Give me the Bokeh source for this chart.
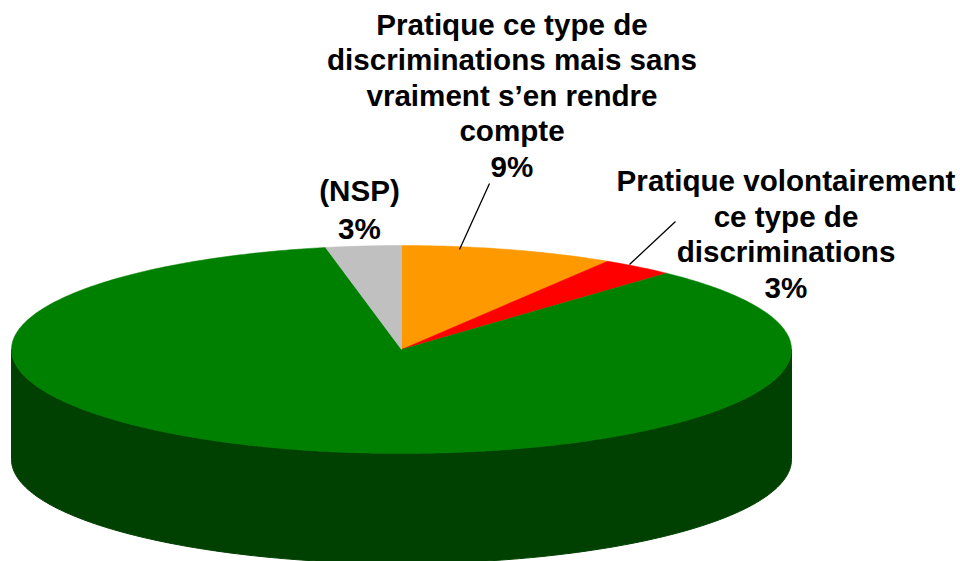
import numpy as np
from bokeh.plotting import figure
from bokeh.embed import file_html
from bokeh.resources import INLINE
from bokeh.core.properties import value

labels = ["Pratique ce type de\ndiscriminations mais sans\nvraiment s\u2019en rendre\ncompte\n9%",
          "Pratique volontairement\nce type de\ndiscriminations\n3%",
          "",
          "(NSP)\n3%"]
values = [8.86, 3.03, 84.99, 3.12]
colors = ["#FF9900", "#FF0000", "#008000", "#C0C0C0"]
side_color = "#004000"

W, H = 960, 561
CX, CY, RX, RY, DEPTH = 401, 349, 390, 104, 110  # layout in figure px

p = figure(width=W, height=H, x_range=(0, W), y_range=(H, 0), toolbar_location=None,
           output_backend="svg", min_border=0, outline_line_color=None)
p.axis.visible = False
p.grid.visible = False
p.background_fill_color = "white"

def ell(a):
    return CX + RX*np.sin(a), CY - RY*np.cos(a)

# side wall
t = np.linspace(np.pi/2, 3*np.pi/2, 200)
sx, sy = ell(t)
p.patch(np.r_[sx, sx[::-1]], np.r_[sy, sy[::-1] + DEPTH], fill_color=side_color, line_color=side_color)

# top slices, clockwise from 12 o'clock
cum = 0.0
tot = sum(values)
for v, c in zip(values, colors):
    a0 = cum/tot*2*np.pi
    cum += v
    a1 = cum/tot*2*np.pi
    t = np.linspace(a0, a1, max(int(v*6), 12))
    x, y = ell(t)
    p.patch(np.r_[CX, x], np.r_[CY, y], fill_color=c, line_color=c, line_width=0.5)

# label text
font = value("Liberation Sans")
def put(lines, xc, ytop, lh):
    for i, s in enumerate(lines.split("\n")):
        p.text([xc], [ytop + i*lh], text=[s], text_font=font, text_font_size="29.6px", text_font_style="bold",
               text_align="center", text_baseline="middle", text_color="black")

put(labels[0], 511.5, 24, 35.4)
put(labels[1], 785.5, 180, 35.6)
put(labels[3], 359, 189.5, 38)

# leader lines
p.line([459, 489], [249, 183], line_color="black", line_width=1.3)
p.line([629, 675], [264, 221], line_color="black", line_width=1.3)

open("out.html", "w").write(file_html(p, INLINE))
